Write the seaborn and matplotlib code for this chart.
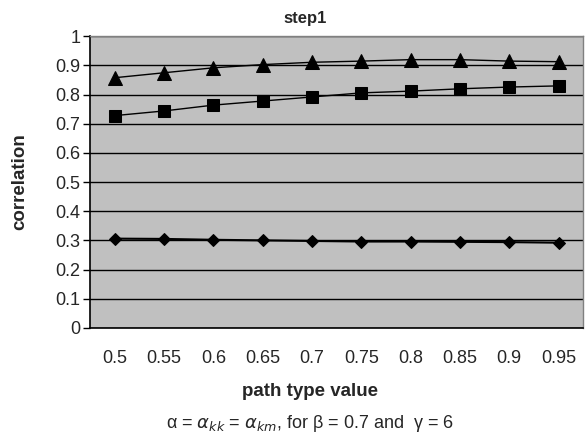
import matplotlib
matplotlib.use("Agg")
import matplotlib.pyplot as plt
import seaborn as sns
import pandas as pd

path_type = ["0.5", "0.55", "0.6", "0.65", "0.7", "0.75", "0.8", "0.85", "0.9", "0.95"]
triangles = [0.858, 0.875, 0.892, 0.903, 0.911, 0.915, 0.920, 0.920, 0.915, 0.913]
squares = [0.728, 0.744, 0.764, 0.778, 0.792, 0.806, 0.812, 0.820, 0.826, 0.830]
diamonds = [0.306, 0.305, 0.302, 0.300, 0.298, 0.296, 0.296, 0.295, 0.294, 0.292]

sns.set_style("white")
plt.rcParams["font.family"] = ["Liberation Sans", "DejaVu Sans"]

df = pd.DataFrame({"pos": range(len(path_type)), "tri": triangles, "sq": squares, "dia": diamonds})

fig = plt.figure(figsize=(5.85, 4.43), dpi=100)
ax = fig.add_axes([0.154, 0.26, 0.843, 0.658])
ax.set_facecolor("#c0c0c0")

sns.lineplot(data=df, x="pos", y="tri", ax=ax, color="black", linewidth=1,
             marker="^", markersize=10, markeredgecolor="black")
sns.lineplot(data=df, x="pos", y="sq", ax=ax, color="black", linewidth=1,
             marker="s", markersize=9, markeredgecolor="black")
sns.lineplot(data=df, x="pos", y="dia", ax=ax, color="black", linewidth=1.5,
             marker="D", markersize=6.5, markeredgecolor="black")

ax.set_xlim(-0.5, len(path_type) - 0.5)
ax.set_ylim(0, 1)
ax.set_yticks([i / 10 for i in range(11)])
ax.set_yticklabels(["0", "0.1", "0.2", "0.3", "0.4", "0.5", "0.6", "0.7", "0.8", "0.9", "1"])
ax.yaxis.grid(True, color="black", linewidth=1)
ax.set_axisbelow(True)

# Excel style category axis: ticks between categories, labels centered
ax.set_xticks([i - 0.5 for i in range(len(path_type) + 1)])
ax.set_xticklabels([])
ax.set_xticks(range(len(path_type)), minor=True)
ax.set_xticklabels(path_type, minor=True)
ax.tick_params(axis="x", which="major", length=5, width=1, color="black", direction="out")
ax.tick_params(axis="x", which="minor", length=0, pad=16, labelsize=13)
ax.tick_params(axis="y", length=5, width=1, color="black", direction="out", labelsize=13,
               left=True, pad=2)

for s in ["left", "bottom"]:
    ax.spines[s].set_color("black")
    ax.spines[s].set_linewidth(1.2)
for s in ["top", "right"]:
    ax.spines[s].set_color("#808080")
    ax.spines[s].set_linewidth(1)

fig.text(305 / 585, 1 - 19 / 443, "step1", fontsize=12, fontweight="bold", ha="center", va="center")

ax.set_ylabel("correlation", fontsize=13.5, fontweight="bold")
ax.yaxis.set_label_coords(-0.142, 0.5)
ax.yaxis.label.set_va("center")

ax.set_xlabel("path type value", fontsize=13.5, fontweight="bold")
ax.xaxis.set_label_coords(0.446, -0.219)
ax.xaxis.label.set_va("center")

fig.text(310 / 585, 1 - 424 / 443, r"α = $\alpha_{kk}$ = $\alpha_{km}$, for β = 0.7 and  γ = 6",
         ha="center", va="center", fontsize=13)

fig.savefig("out.png", dpi=100)
